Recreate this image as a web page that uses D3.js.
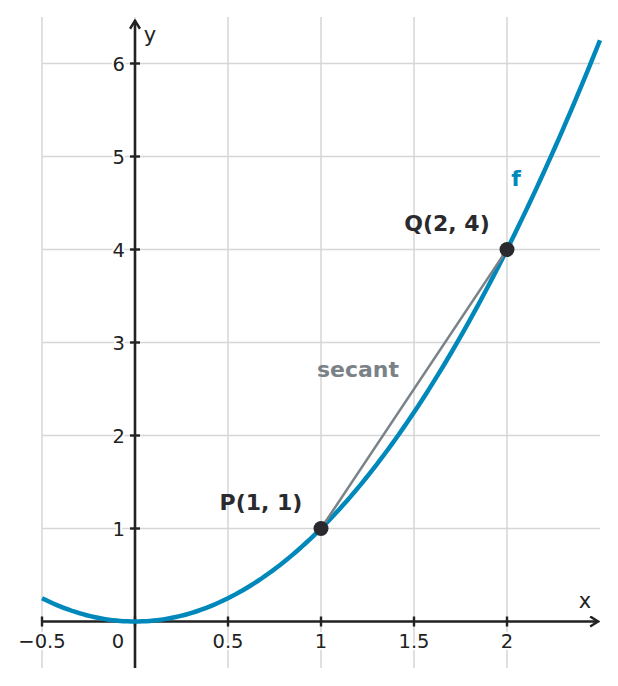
<!DOCTYPE html>
<html lang="en">
<head>
    <meta charset="UTF-8">
    <title>Secant of f</title>
    <script src="https://d3js.org/d3.v7.min.js"></script>
    <style>
        body{ margin:0; background:#fff; }
        svg text{ font-family:"DejaVu Sans", sans-serif; }
        .tick-label{ paint-order:stroke; stroke:#fff; stroke-width:4px; stroke-linejoin:round; }
    </style>
</head>
<body>
<script>
    var w = 618;
    var h = 686;

    // data
    var xTicks = [-0.5, 0, 0.5, 1, 1.5, 2];
    var xTickLabels = ["\u22120.5", "0", "0.5", "1", "1.5", "2"];
    var yTicks = [1, 2, 3, 4, 5, 6];
    var xGrid = [-0.5, 0, 0.5, 1, 1.5, 2];
    var yGrid = [0, 1, 2, 3, 4, 5, 6];
    var curveX = d3.range(-0.5, 2.5001, 0.02);
    var points = [
        {name:"P(1, 1)", x:1, y:1},
        {name:"Q(2, 4)", x:2, y:4}
    ];

    var xScale = d3.scaleLinear().domain([-0.5, 2.5]).range([42, 600]);
    var yScale = d3.scaleLinear().domain([-0.5, 6.5]).range([668, 17]);

    var svg = d3.select("body").append("svg")
        .attr("width", w).attr("height", h);

    var defs = svg.append("defs");
    defs.append("marker").attr("id","arrow")
        .attr("viewBox","0 0 12 12").attr("refX",10).attr("refY",6)
        .attr("markerWidth",12).attr("markerHeight",12)
        .attr("markerUnits","userSpaceOnUse").attr("orient","auto")
        .append("path").attr("d","M2,1 L10,6 L2,11")
        .attr("fill","none").attr("stroke","#222").attr("stroke-width",2.5);

    // grid
    svg.append("g").selectAll("line").data(xGrid).enter().append("line")
        .attr("x1", d => xScale(d)).attr("x2", d => xScale(d))
        .attr("y1", yScale(6.5)).attr("y2", yScale(-0.5))
        .attr("stroke","#d6d6d6").attr("stroke-width",1.5);
    svg.append("g").selectAll("line").data(yGrid).enter().append("line")
        .attr("x1", xScale(-0.5)).attr("x2", xScale(2.5))
        .attr("y1", d => yScale(d)).attr("y2", d => yScale(d))
        .attr("stroke","#d6d6d6").attr("stroke-width",1.5);

    // axes
    svg.append("line")
        .attr("x1", xScale(-0.5)).attr("x2", xScale(2.49))
        .attr("y1", yScale(0)).attr("y2", yScale(0))
        .attr("stroke","#222").attr("stroke-width",2.6)
        .attr("marker-end","url(#arrow)");
    svg.append("line")
        .attr("x1", xScale(0)).attr("x2", xScale(0))
        .attr("y1", yScale(-0.5)).attr("y2", yScale(6.46))
        .attr("stroke","#222").attr("stroke-width",2.6)
        .attr("marker-end","url(#arrow)");

    // ticks
    svg.append("g").selectAll("line").data(xTicks).enter().append("line")
        .attr("x1", d => xScale(d)).attr("x2", d => xScale(d))
        .attr("y1", yScale(0) - 5).attr("y2", yScale(0) + 5)
        .attr("stroke","#222").attr("stroke-width",2.4);
    svg.append("g").selectAll("line").data(yTicks).enter().append("line")
        .attr("x1", xScale(0) - 5).attr("x2", xScale(0) + 5)
        .attr("y1", d => yScale(d)).attr("y2", d => yScale(d))
        .attr("stroke","#222").attr("stroke-width",2.4);

    svg.append("g").selectAll("text").data(xTicks).enter().append("text")
        .attr("class","tick-label")
        .attr("x", d => d === 0 ? xScale(d) - 17 : xScale(d))
        .attr("y", yScale(0) + 26)
        .attr("text-anchor","middle").attr("font-size",19.5).attr("fill","#222")
        .text((d, i) => xTickLabels[i]);
    svg.append("g").selectAll("text").data(yTicks).enter().append("text")
        .attr("class","tick-label")
        .attr("x", xScale(0) - 10).attr("y", d => yScale(d) + 7)
        .attr("text-anchor","end").attr("font-size",19.5).attr("fill","#222")
        .text(d => d);

    svg.append("text").attr("x", 585).attr("y", 608)
        .attr("text-anchor","middle").attr("font-size",21).attr("fill","#222").text("x");
    svg.append("text").attr("x", 150).attr("y", 42)
        .attr("text-anchor","middle").attr("font-size",21).attr("fill","#222").text("y");

    // curve f(x) = x^2
    var line = d3.line().x(d => xScale(d)).y(d => yScale(d * d));
    svg.append("path").datum(curveX)
        .attr("d", line)
        .attr("fill","none").attr("stroke","#0088bb").attr("stroke-width",4.5);

    // secant
    svg.append("line")
        .attr("x1", xScale(points[0].x)).attr("y1", yScale(points[0].y))
        .attr("x2", xScale(points[1].x)).attr("y2", yScale(points[1].y))
        .attr("stroke","#7a8288").attr("stroke-width",2.5);

    svg.append("g").selectAll("circle").data(points).enter().append("circle")
        .attr("cx", d => xScale(d.x)).attr("cy", d => yScale(d.y))
        .attr("r", 7.5).attr("fill","#2a2a2e");

    svg.append("g").selectAll("text").data(points).enter().append("text")
        .attr("x", d => xScale(d.x) - 60).attr("y", d => yScale(d.y) - 19)
        .attr("text-anchor","middle").attr("font-size",22).attr("font-weight","bold")
        .attr("fill","#2a2a2e").text(d => d.name);

    svg.append("text").attr("x", 358).attr("y", 377)
        .attr("text-anchor","middle").attr("font-size",22).attr("font-weight","bold")
        .attr("fill","#7a8288").text("secant");
    svg.append("text").attr("x", 516).attr("y", 186)
        .attr("text-anchor","middle").attr("font-size",22).attr("font-weight","bold")
        .attr("fill","#0088bb").text("f");
</script>
</body>
</html>
